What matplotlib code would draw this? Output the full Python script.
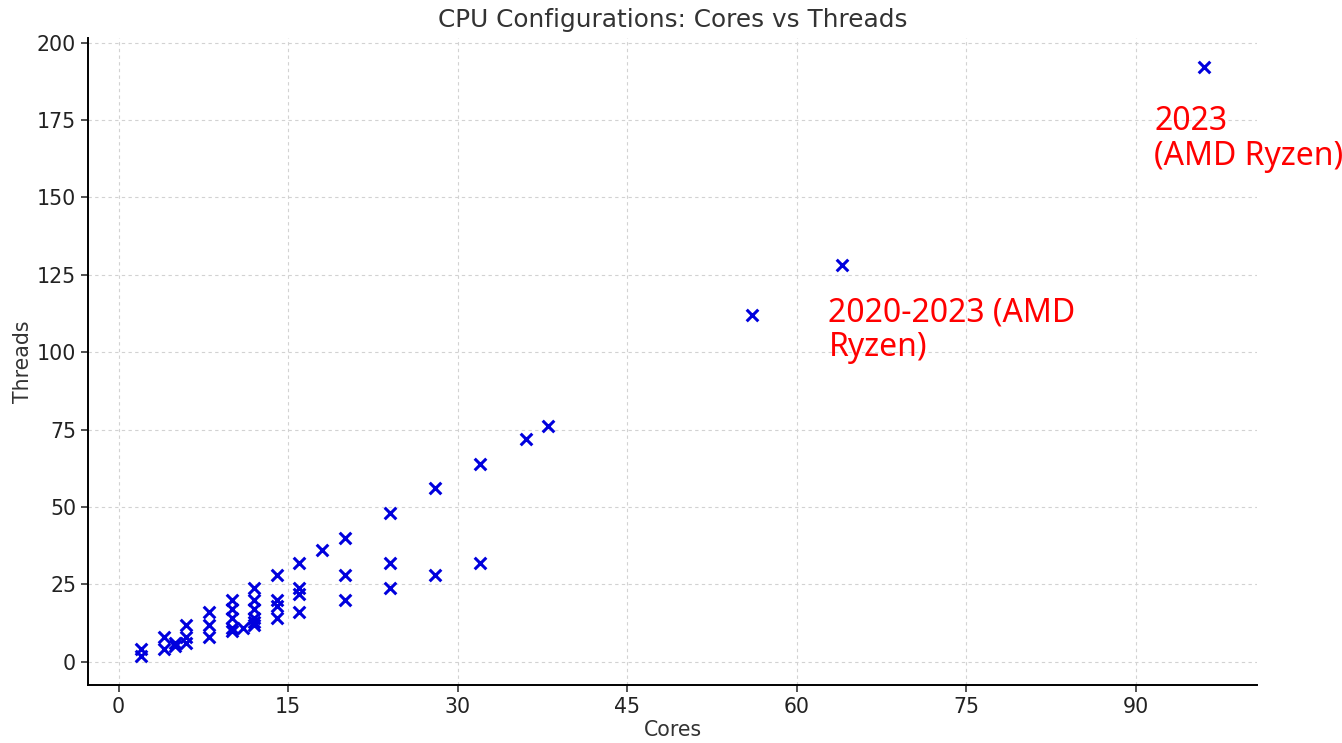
import matplotlib
matplotlib.use("Agg")
import matplotlib.pyplot as plt

# 核心数 / 线程数
cores = [2, 2, 4, 4, 5, 5, 6, 6, 6, 8, 8, 8,
         10, 10, 10, 10, 10, 11,
         12, 12, 12, 12, 12, 12,
         14, 14, 14, 14, 16, 16, 16, 16, 18,
         20, 20, 20, 24, 24, 24, 28, 28, 32, 32, 36, 38,
         56, 64, 96]
threads = [4, 2, 8, 4, 6, 5, 12, 8, 6, 16, 12, 8,
           20, 17, 14, 11, 10, 11,
           24, 20, 17, 14, 13, 12,
           28, 20, 18, 14, 32, 24, 22, 16, 36,
           40, 28, 20, 48, 32, 24, 56, 28, 64, 32, 72, 76,
           112, 128, 192]

# 注释文字
notes = ["2020-2023 (AMD\nRyzen)", "2023\n(AMD Ryzen)"]
note_pos = [(62.8, 117.9), (91.6, 179.7)]

plt.rcParams['font.family'] = ['DejaVu Sans']

fig = plt.figure(figsize=(13.42, 7.43), dpi=100)
ax = fig.add_axes([0.0656, 0.078, 0.871, 0.871])

ax.scatter(cores, threads, marker='x', color='#0000dd', s=70, linewidths=2.2, zorder=3)

for txt, (x, y) in zip(notes, note_pos):
    ax.text(x, y, txt, color='red', fontsize=23, family=['Noto Sans', 'DejaVu Sans'],
            va='top', ha='left', linespacing=1.05)

ax.set_title("CPU Configurations: Cores vs Threads", fontsize=17.8, color='#333333', pad=8)
ax.set_xlabel("Cores", fontsize=14.8, color='#333333', labelpad=2)
ax.set_ylabel("Threads", fontsize=14.8, color='#333333', labelpad=3)

ax.set_xticks(range(0, 91, 15))
ax.set_yticks(range(0, 201, 25))
ax.tick_params(labelsize=14.8, colors='#333333', length=5, width=1.2)
ax.tick_params(axis='both', labelcolor='#222222')

ax.grid(True, linestyle=(0, (3, 3)), color='#d2d2d2', linewidth=0.8)
ax.set_axisbelow(True)
for side in ['top', 'right']:
    ax.spines[side].set_visible(False)
for side in ['left', 'bottom']:
    ax.spines[side].set_linewidth(1.4)

fig.savefig("out.png", dpi=100)
